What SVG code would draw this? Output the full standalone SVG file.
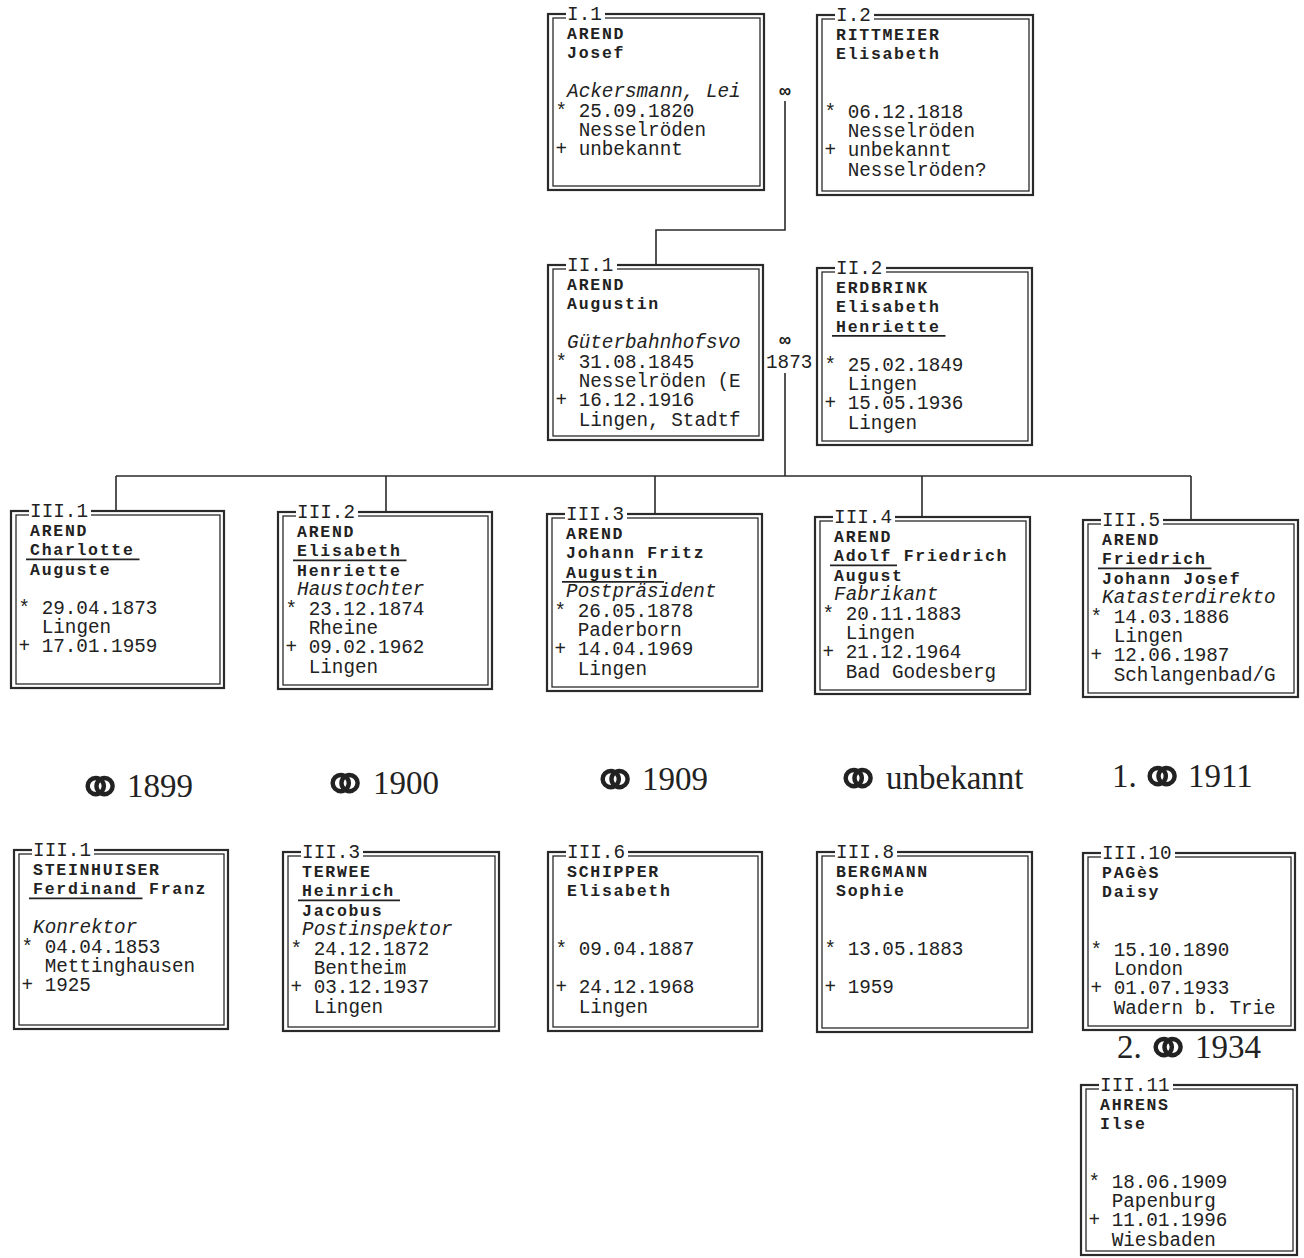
<svg xmlns="http://www.w3.org/2000/svg" width="1304" height="1258" viewBox="0 0 1304 1258">
<style>
.bo{fill:#fff;stroke:#2a2a2a;stroke-width:2.2}
.bi{fill:none;stroke:#2a2a2a;stroke-width:1.3}
.lbg{fill:#fff}
.t{font-family:"Liberation Mono","Courier New",monospace;font-size:19.3px;fill:#222}
.n{font-weight:bold;font-size:16.5px;letter-spacing:1.7px}
.i{font-style:italic}
.u{stroke:#222;stroke-width:1.7}
.c{fill:none;stroke:#2a2a2a;stroke-width:1.6}
.m{font-family:"Liberation Serif","Times New Roman","DejaVu Serif",serif;font-size:33px;fill:#222}
.r{font-family:"DejaVu Sans",sans-serif;font-size:60px}
.sym{font-family:"Liberation Mono",monospace;font-weight:bold;font-size:19px;fill:#222}
</style>
<rect width="1304" height="1258" fill="#fff"/>

<g id="connectors">
<path class="c" d="M785 101 V230 H656 V265"/>
<path class="c" d="M785 373 V476"/>
<path class="c" d="M116 476 H1191"/>
<path class="c" d="M116 476 V511 M386 476 V512 M655 476 V514 M922 476 V517 M1191 476 V520"/>
<text class="sym" x="785" y="97" text-anchor="middle">∞</text>
<text class="sym" x="785" y="346" text-anchor="middle">∞</text>
<text class="t" x="766" y="368">1873</text>
</g>

<g id="I1" transform="translate(548,14)">
<rect class="bo" width="216" height="176"/><rect class="bi" x="5" y="4" width="207" height="168"/>
<rect class="lbg" x="18" y="-6" width="39" height="12"/><text class="t" x="19.1" y="6">I.1</text>
<text class="t n" x="19.1" y="25">AREND</text>
<text class="t n" x="19.1" y="44.4">Josef</text>
<text class="t i" x="19.1" y="83.2">Ackersmann, Lei</text>
<text class="t" x="7.5" y="102.6">* 25.09.1820</text>
<text class="t" x="30.7" y="122">Nesselröden</text>
<text class="t" x="7.5" y="141.4">+ unbekannt</text>
</g>

<g id="I2" transform="translate(817,15)">
<rect class="bo" width="216" height="180"/><rect class="bi" x="5" y="4" width="207" height="172"/>
<rect class="lbg" x="18" y="-6" width="39" height="12"/><text class="t" x="19.1" y="6">I.2</text>
<text class="t n" x="19.1" y="25">RITTMEIER</text>
<text class="t n" x="19.1" y="44.4">Elisabeth</text>
<text class="t" x="7.5" y="102.6">* 06.12.1818</text>
<text class="t" x="30.7" y="122">Nesselröden</text>
<text class="t" x="7.5" y="141.4">+ unbekannt</text>
<text class="t" x="30.7" y="160.8">Nesselröden?</text>
</g>

<g id="II1" transform="translate(548,265)">
<rect class="bo" width="215" height="175"/><rect class="bi" x="5" y="4" width="206" height="167"/>
<rect class="lbg" x="18" y="-6" width="51" height="12"/><text class="t" x="19.1" y="6">II.1</text>
<text class="t n" x="19.1" y="25">AREND</text>
<text class="t n" x="19.1" y="44.4">Augustin</text>
<text class="t i" x="19.1" y="83.2">Güterbahnhofsvo</text>
<text class="t" x="7.5" y="102.6">* 31.08.1845</text>
<text class="t" x="30.7" y="122">Nesselröden (E</text>
<text class="t" x="7.5" y="141.4">+ 16.12.1916</text>
<text class="t" x="30.7" y="160.8">Lingen, Stadtf</text>
</g>

<g id="II2" transform="translate(817,268)">
<rect class="bo" width="215" height="177"/><rect class="bi" x="5" y="4" width="206" height="169"/>
<rect class="lbg" x="18" y="-6" width="51" height="12"/><text class="t" x="19.1" y="6">II.2</text>
<text class="t n" x="19.1" y="25">ERDBRINK</text>
<text class="t n" x="19.1" y="44.4">Elisabeth</text>
<text class="t n" x="19.1" y="63.8">Henriette</text>
<line class="u" x1="15" y1="67.8" x2="128.5" y2="67.8"/>
<text class="t" x="7.5" y="102.6">* 25.02.1849</text>
<text class="t" x="30.7" y="122">Lingen</text>
<text class="t" x="7.5" y="141.4">+ 15.05.1936</text>
<text class="t" x="30.7" y="160.8">Lingen</text>
</g>

<g id="III1" transform="translate(11,511)">
<rect class="bo" width="213" height="177"/><rect class="bi" x="5" y="4" width="204" height="169"/>
<rect class="lbg" x="18" y="-6" width="62" height="12"/><text class="t" x="19.1" y="6">III.1</text>
<text class="t n" x="19.1" y="25">AREND</text>
<text class="t n" x="19.1" y="44.4">Charlotte</text>
<line class="u" x1="15" y1="48.4" x2="128.5" y2="48.4"/>
<text class="t n" x="19.1" y="63.8">Auguste</text>
<text class="t" x="7.5" y="102.6">* 29.04.1873</text>
<text class="t" x="30.7" y="122">Lingen</text>
<text class="t" x="7.5" y="141.4">+ 17.01.1959</text>
</g>

<g id="III2" transform="translate(278,512)">
<rect class="bo" width="214" height="177"/><rect class="bi" x="5" y="4" width="205" height="169"/>
<rect class="lbg" x="18" y="-6" width="62" height="12"/><text class="t" x="19.1" y="6">III.2</text>
<text class="t n" x="19.1" y="25">AREND</text>
<text class="t n" x="19.1" y="44.4">Elisabeth</text>
<line class="u" x1="15" y1="48.4" x2="128.5" y2="48.4"/>
<text class="t n" x="19.1" y="63.8">Henriette</text>
<text class="t i" x="19.1" y="83.2">Haustochter</text>
<text class="t" x="7.5" y="102.6">* 23.12.1874</text>
<text class="t" x="30.7" y="122">Rheine</text>
<text class="t" x="7.5" y="141.4">+ 09.02.1962</text>
<text class="t" x="30.7" y="160.8">Lingen</text>
</g>

<g id="III3" transform="translate(547,514)">
<rect class="bo" width="215" height="177"/><rect class="bi" x="5" y="4" width="206" height="169"/>
<rect class="lbg" x="18" y="-6" width="62" height="12"/><text class="t" x="19.1" y="6">III.3</text>
<text class="t n" x="19.1" y="25">AREND</text>
<text class="t n" x="19.1" y="44.4">Johann Fritz</text>
<text class="t n" x="19.1" y="63.8">Augustin</text>
<line class="u" x1="15" y1="67.8" x2="117" y2="67.8"/>
<text class="t i" x="19.1" y="83.2">Postpräsident</text>
<text class="t" x="7.5" y="102.6">* 26.05.1878</text>
<text class="t" x="30.7" y="122">Paderborn</text>
<text class="t" x="7.5" y="141.4">+ 14.04.1969</text>
<text class="t" x="30.7" y="160.8">Lingen</text>
</g>

<g id="III4" transform="translate(815,517)">
<rect class="bo" width="215" height="177"/><rect class="bi" x="5" y="4" width="206" height="169"/>
<rect class="lbg" x="18" y="-6" width="62" height="12"/><text class="t" x="19.1" y="6">III.4</text>
<text class="t n" x="19.1" y="25">AREND</text>
<text class="t n" x="19.1" y="44.4">Adolf Friedrich</text>
<line class="u" x1="15" y1="48.4" x2="82" y2="48.4"/>
<text class="t n" x="19.1" y="63.8">August</text>
<text class="t i" x="19.1" y="83.2">Fabrikant</text>
<text class="t" x="7.5" y="102.6">* 20.11.1883</text>
<text class="t" x="30.7" y="122">Lingen</text>
<text class="t" x="7.5" y="141.4">+ 21.12.1964</text>
<text class="t" x="30.7" y="160.8">Bad Godesberg</text>
</g>

<g id="III5" transform="translate(1083,520)">
<rect class="bo" width="215" height="177"/><rect class="bi" x="5" y="4" width="206" height="169"/>
<rect class="lbg" x="18" y="-6" width="62" height="12"/><text class="t" x="19.1" y="6">III.5</text>
<text class="t n" x="19.1" y="25">AREND</text>
<text class="t n" x="19.1" y="44.4">Friedrich</text>
<line class="u" x1="15" y1="48.4" x2="128.5" y2="48.4"/>
<text class="t n" x="19.1" y="63.8">Johann Josef</text>
<text class="t i" x="19.1" y="83.2">Katasterdirekto</text>
<text class="t" x="7.5" y="102.6">* 14.03.1886</text>
<text class="t" x="30.7" y="122">Lingen</text>
<text class="t" x="7.5" y="141.4">+ 12.06.1987</text>
<text class="t" x="30.7" y="160.8">Schlangenbad/G</text>
</g>

<g id="marriages">
<text class="m" y="797"><tspan class="r" x="75" dy="11">⚭</tspan><tspan x="127" dy="-11">1899</tspan></text>
<text class="m" y="794"><tspan class="r" x="320" dy="11">⚭</tspan><tspan x="373" dy="-11">1900</tspan></text>
<text class="m" y="790"><tspan class="r" x="590" dy="11">⚭</tspan><tspan x="642" dy="-11">1909</tspan></text>
<text class="m" y="789"><tspan class="r" x="833" dy="11">⚭</tspan><tspan x="886" dy="-11">unbekannt</tspan></text>
<text class="m" x="1112" y="787">1.<tspan class="r" x="1137" dy="11">⚭</tspan><tspan x="1188" dy="-11">1911</tspan></text>
<text class="m" x="1117" y="1058">2.<tspan class="r" x="1143" dy="11">⚭</tspan><tspan x="1195" dy="-11">1934</tspan></text>
</g>

<g id="III1-spouse" transform="translate(14,850)">
<rect class="bo" width="214" height="179"/><rect class="bi" x="5" y="4" width="205" height="171"/>
<rect class="lbg" x="18" y="-6" width="62" height="12"/><text class="t" x="19.1" y="6">III.1</text>
<text class="t n" x="19.1" y="25">STEINHUISER</text>
<text class="t n" x="19.1" y="44.4">Ferdinand Franz</text>
<line class="u" x1="15" y1="48.4" x2="128.5" y2="48.4"/>
<text class="t i" x="19.1" y="83.2">Konrektor</text>
<text class="t" x="7.5" y="102.6">* 04.04.1853</text>
<text class="t" x="30.7" y="122">Mettinghausen</text>
<text class="t" x="7.5" y="141.4">+ 1925</text>
</g>

<g id="III3-spouse" transform="translate(283,852)">
<rect class="bo" width="216" height="179"/><rect class="bi" x="5" y="4" width="207" height="171"/>
<rect class="lbg" x="18" y="-6" width="62" height="12"/><text class="t" x="19.1" y="6">III.3</text>
<text class="t n" x="19.1" y="25">TERWEE</text>
<text class="t n" x="19.1" y="44.4">Heinrich</text>
<line class="u" x1="15" y1="48.4" x2="117" y2="48.4"/>
<text class="t n" x="19.1" y="63.8">Jacobus</text>
<text class="t i" x="19.1" y="83.2">Postinspektor</text>
<text class="t" x="7.5" y="102.6">* 24.12.1872</text>
<text class="t" x="30.7" y="122">Bentheim</text>
<text class="t" x="7.5" y="141.4">+ 03.12.1937</text>
<text class="t" x="30.7" y="160.8">Lingen</text>
</g>

<g id="III6" transform="translate(548,852)">
<rect class="bo" width="214" height="179"/><rect class="bi" x="5" y="4" width="205" height="171"/>
<rect class="lbg" x="18" y="-6" width="62" height="12"/><text class="t" x="19.1" y="6">III.6</text>
<text class="t n" x="19.1" y="25">SCHIPPER</text>
<text class="t n" x="19.1" y="44.4">Elisabeth</text>
<text class="t" x="7.5" y="102.6">* 09.04.1887</text>
<text class="t" x="7.5" y="141.4">+ 24.12.1968</text>
<text class="t" x="30.7" y="160.8">Lingen</text>
</g>

<g id="III8" transform="translate(817,852)">
<rect class="bo" width="215" height="180"/><rect class="bi" x="5" y="4" width="206" height="172"/>
<rect class="lbg" x="18" y="-6" width="62" height="12"/><text class="t" x="19.1" y="6">III.8</text>
<text class="t n" x="19.1" y="25">BERGMANN</text>
<text class="t n" x="19.1" y="44.4">Sophie</text>
<text class="t" x="7.5" y="102.6">* 13.05.1883</text>
<text class="t" x="7.5" y="141.4">+ 1959</text>
</g>

<g id="III10" transform="translate(1083,853)">
<rect class="bo" width="212" height="177"/><rect class="bi" x="5" y="4" width="203" height="169"/>
<rect class="lbg" x="18" y="-6" width="74" height="12"/><text class="t" x="19.1" y="6">III.10</text>
<text class="t n" x="19.1" y="25">PAGèS</text>
<text class="t n" x="19.1" y="44.4">Daisy</text>
<text class="t" x="7.5" y="102.6">* 15.10.1890</text>
<text class="t" x="30.7" y="122">London</text>
<text class="t" x="7.5" y="141.4">+ 01.07.1933</text>
<text class="t" x="30.7" y="160.8">Wadern b. Trie</text>
</g>

<g id="III11" transform="translate(1081,1085)">
<rect class="bo" width="216" height="170"/><rect class="bi" x="5" y="4" width="207" height="162"/>
<rect class="lbg" x="18" y="-6" width="74" height="12"/><text class="t" x="19.1" y="6">III.11</text>
<text class="t n" x="19.1" y="25">AHRENS</text>
<text class="t n" x="19.1" y="44.4">Ilse</text>
<text class="t" x="7.5" y="102.6">* 18.06.1909</text>
<text class="t" x="30.7" y="122">Papenburg</text>
<text class="t" x="7.5" y="141.4">+ 11.01.1996</text>
<text class="t" x="30.7" y="160.8">Wiesbaden</text>
</g>
</svg>
